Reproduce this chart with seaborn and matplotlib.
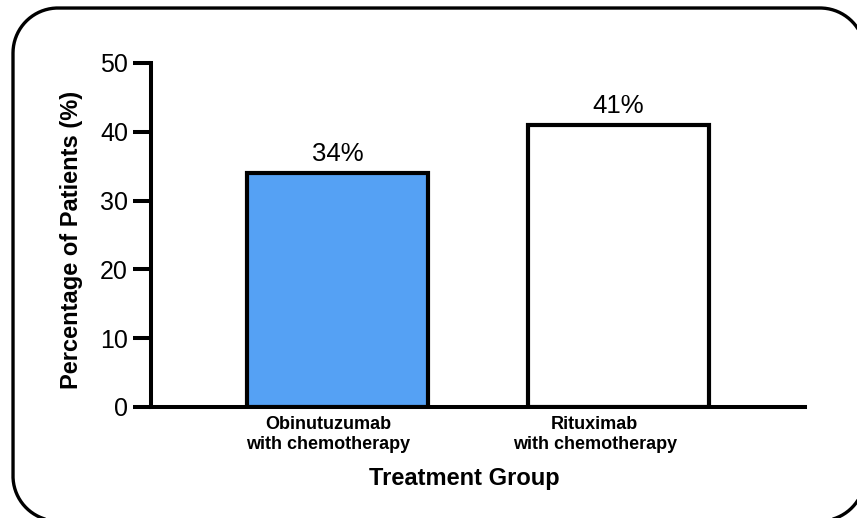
import matplotlib
matplotlib.use("Agg")
import matplotlib.pyplot as plt
from matplotlib.lines import Line2D
from matplotlib.transforms import IdentityTransform
import numpy as np
import seaborn as sns
import pandas as pd

# Data
groups = ["Obinutuzumab\nwith chemotherapy", "Rituximab\nwith chemotherapy"]
percentages = [34, 41]
bar_colors = ["#55A1F4", "#FFFFFF"]
y_ticks = [0, 10, 20, 30, 40, 50]

df = pd.DataFrame({"group": groups, "pct": percentages})

sns.set_style("ticks")
plt.rcParams["font.family"] = ["Liberation Sans", "DejaVu Sans"]
plt.rcParams["text.color"] = "black"
plt.rcParams["axes.labelcolor"] = "black"
plt.rcParams["xtick.color"] = "black"
plt.rcParams["ytick.color"] = "black"

fig = plt.figure(figsize=(8.57, 5.18), dpi=100)
ax = fig.add_axes([151 / 857, (518 - 407) / 518, 654 / 857, 344 / 518])

sns.barplot(data=df, x="group", y="pct", hue="group", palette=bar_colors,
            edgecolor="black", linewidth=3.0, width=0.646, legend=False,
            saturation=1, ax=ax)

for cont, v in zip(ax.containers, percentages):
    ax.bar_label(cont, labels=[f"{v}%"], padding=5, fontsize=18.5, color="black")

ax.set_ylim(0, 50)
ax.set_xlim(-0.666, 1.666)
ax.set_yticks(y_ticks)
ax.set_yticklabels([str(t) for t in y_ticks], fontsize=18)

# category labels sit slightly left of the bar centres
ax.set_xticks([-0.034, 0.916])
ax.set_xticklabels(groups, fontsize=13, fontweight="bold", linespacing=1.2)
ax.tick_params(axis="x", length=0, pad=6.5, labelcolor="black")
ax.tick_params(axis="y", length=13, width=2.9, pad=3.5, labelcolor="black")

for side in ("top", "right"):
    ax.spines[side].set_visible(False)
for side in ("left", "bottom"):
    ax.spines[side].set_linewidth(2.9)
    ax.spines[side].set_color("black")

ax.set_ylabel("Percentage of Patients (%)", fontsize=17, fontweight="bold",
              color="black")
ax.yaxis.set_label_coords(-0.104, 0.485)
ax.set_xlabel("Treatment Group", fontsize=17, fontweight="bold", color="black")
ax.xaxis.set_label_coords(0.479, -0.175)


def rounded_rect(x0, y0, x1, y1, r, n=40):
    """Closed polyline of a rounded rectangle in pixel coordinates."""
    pts = []
    corners = [(x1 - r, y1 - r, 0.0), (x0 + r, y1 - r, 90.0),
               (x0 + r, y0 + r, 180.0), (x1 - r, y0 + r, 270.0)]
    for cx, cy, start in corners:
        t = np.radians(np.linspace(start, start + 90.0, n))
        pts.append(np.column_stack([cx + r * np.cos(t), cy + r * np.sin(t)]))
    pts = np.vstack(pts + [pts[0][:1]])
    return pts[:, 0], pts[:, 1]


# rounded frame around the whole figure
fx, fy = rounded_rect(13, -3, 865, 510, 45)
frame = Line2D(fx, fy, transform=IdentityTransform(), color="black",
               linewidth=2.4, solid_joinstyle="round")
fig.add_artist(frame)

fig.savefig("out.png", dpi=100)
